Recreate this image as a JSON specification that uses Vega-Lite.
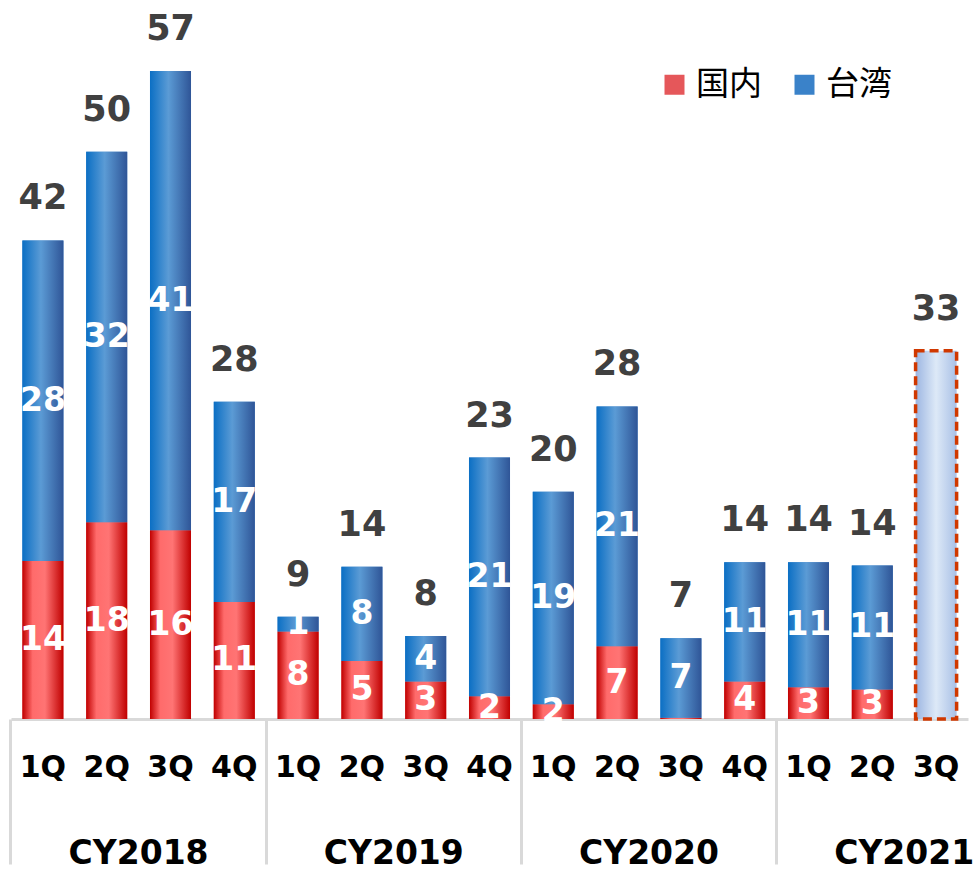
{
  "$schema": "https://vega.github.io/schema/vega-lite/v6.json",
  "width": 957,
  "height": 682,
  "autosize": {"type": "none"},
  "padding": {"left": 11, "right": 9, "top": 37, "bottom": 152},
  "config": {"view": {"stroke": null}, "font": "DejaVu Sans"},
  "data": {
    "values": [
      {"key": "2018-1Q", "dom": 13.9, "top": 42.1, "domLabel": "14", "twLabel": "28", "total": "42", "est": false},
      {"key": "2018-2Q", "dom": 17.3, "top": 49.9, "domLabel": "18", "twLabel": "32", "total": "50", "est": false},
      {"key": "2018-3Q", "dom": 16.6, "top": 57.0, "domLabel": "16", "twLabel": "41", "total": "57", "est": false},
      {"key": "2018-4Q", "dom": 10.3, "top": 27.9, "domLabel": "11", "twLabel": "17", "total": "28", "est": false},
      {"key": "2019-1Q", "dom": 7.7, "top": 9.0, "domLabel": "8", "twLabel": "1", "total": "9", "est": false},
      {"key": "2019-2Q", "dom": 5.1, "top": 13.4, "domLabel": "5", "twLabel": "8", "total": "14", "est": false},
      {"key": "2019-3Q", "dom": 3.3, "top": 7.3, "domLabel": "3", "twLabel": "4", "total": "8", "est": false},
      {"key": "2019-4Q", "dom": 2.0, "top": 23.0, "domLabel": "2", "twLabel": "21", "total": "23", "est": false},
      {"key": "2020-1Q", "dom": 1.3, "top": 20.0, "domLabel": "2", "twLabel": "19", "total": "20", "est": false},
      {"key": "2020-2Q", "dom": 6.4, "top": 27.5, "domLabel": "7", "twLabel": "21", "total": "28", "est": false},
      {"key": "2020-3Q", "dom": 0.1, "top": 7.1, "domLabel": "", "twLabel": "7", "total": "7", "est": false},
      {"key": "2020-4Q", "dom": 3.3, "top": 13.8, "domLabel": "4", "twLabel": "11", "total": "14", "est": false},
      {"key": "2021-1Q", "dom": 2.8, "top": 13.8, "domLabel": "3", "twLabel": "11", "total": "14", "est": false},
      {"key": "2021-2Q", "dom": 2.6, "top": 13.5, "domLabel": "3", "twLabel": "11", "total": "14", "est": false},
      {"key": "2021-3Q", "dom": 0, "top": 32.4, "domLabel": "", "twLabel": "", "total": "33", "est": true}
    ]
  },
  "resolve": {"axis": {"x": "independent"}},
  "layer": [
    {
      "transform": [{"filter": "!datum.est"}],
      "mark": {"type": "bar"},
      "encoding": {
        "x": {
          "field": "key", "type": "nominal", "sort": null,
          "scale": {"paddingInner": 0.357, "paddingOuter": 0.1785},
          "axis": {
            "title": null, "orient": "bottom", "labelExpr": "slice(datum.value, 5)", "labelAngle": 0,
            "labelFontSize": 30, "labelFontWeight": "bold", "labelColor": "#000000", "labelFont": "DejaVu Sans",
            "ticks": false, "tickSize": 0, "labelPadding": 33,
            "domain": true, "domainColor": "#d9d9d9", "domainWidth": 3
          }
        },
        "y": {"field": "dom", "type": "quantitative", "scale": {"domain": [0, 60], "nice": false, "zero": true}, "axis": null},
        "color": {
          "datum": "国内",
          "scale": {"domain": ["国内", "台湾"], "range": ["#e5575a", "#3a82c9"]},
          "legend": {
            "title": null, "orient": "none", "legendX": 647, "legendY": 31, "direction": "horizontal",
            "symbolType": "square", "symbolSize": 400, "symbolStrokeWidth": 0, "symbolOpacity": 1,
            "labelFontSize": 33, "labelFont": "Noto Sans CJK JP", "labelColor": "#000000",
            "labelOffset": 5, "columnPadding": 26
          }
        }
      }
    },
    {
      "transform": [{"filter": "!datum.est"}],
      "mark": {"type": "bar"},
      "encoding": {
        "x": {"field": "key", "type": "nominal", "sort": null, "axis": null},
        "y": {"field": "top", "type": "quantitative", "axis": null},
        "y2": {"field": "dom"},
        "color": {"datum": "台湾"}
      }
    },
    {
      "transform": [{"filter": "!datum.est"}],
      "mark": {
        "type": "bar",
        "fill": {"gradient": "linear", "x1": 0, "y1": 0, "x2": 1, "y2": 0, "stops": [
          {"offset": 0, "color": "#c00000"}, {"offset": 0.25, "color": "#ff6b6b"},
          {"offset": 0.55, "color": "#ff7474"}, {"offset": 1, "color": "#c00000"}]}
      },
      "encoding": {
        "x": {"field": "key", "type": "nominal", "sort": null, "axis": null},
        "y": {"field": "dom", "type": "quantitative", "axis": null}
      }
    },
    {
      "transform": [{"filter": "!datum.est"}],
      "mark": {
        "type": "bar",
        "fill": {"gradient": "linear", "x1": 0, "y1": 0, "x2": 1, "y2": 0, "stops": [
          {"offset": 0, "color": "#0b6fc4"}, {"offset": 0.45, "color": "#5b9bd5"},
          {"offset": 1, "color": "#2f5597"}]}
      },
      "encoding": {
        "x": {"field": "key", "type": "nominal", "sort": null, "axis": null},
        "y": {"field": "top", "type": "quantitative", "axis": null},
        "y2": {"field": "dom"}
      }
    },
    {
      "transform": [{"filter": "datum.est"}],
      "mark": {
        "type": "bar",
        "fill": {"gradient": "linear", "x1": 0, "y1": 0, "x2": 1, "y2": 0, "stops": [
          {"offset": 0, "color": "#9db6e2"}, {"offset": 0.5, "color": "#dde9f7"}, {"offset": 1, "color": "#a9c0e6"}]},
        "stroke": "#d03800", "strokeWidth": 3.5, "strokeDash": [9, 5]
      },
      "encoding": {
        "x": {"field": "key", "type": "nominal", "sort": null, "axis": null},
        "y": {"field": "top", "type": "quantitative", "axis": null}
      }
    },
    {
      "mark": {"type": "text", "baseline": "alphabetic", "dy": -31, "fontSize": 35, "fontWeight": "bold", "color": "#404040", "font": "DejaVu Sans"},
      "encoding": {
        "x": {
          "field": "key", "type": "nominal", "sort": null,
          "axis": {
            "title": null, "orient": "bottom", "values": ["2018-1Q", "2019-1Q", "2020-1Q", "2021-1Q"],
            "bandPosition": -0.2806, "labelOffset": 95.7, "labelAngle": 0,
            "labelExpr": "'CY' + slice(datum.value, 0, 4)",
            "labelFontSize": 33, "labelFontWeight": "bold", "labelColor": "#000000", "labelFont": "DejaVu Sans",
            "labelOverlap": false, "labelBound": false, "labelFlush": false,
            "ticks": true, "tickSize": 145, "tickColor": "#d9d9d9", "tickWidth": 3,
            "labelPadding": -27, "domain": false
          }
        },
        "y": {"field": "top", "type": "quantitative", "axis": null},
        "text": {"field": "total"}
      }
    },
    {
      "transform": [{"calculate": "datum.dom / 2", "as": "domMid"}],
      "mark": {"type": "text", "baseline": "middle", "fontSize": 33, "fontWeight": "bold", "color": "#ffffff", "font": "DejaVu Sans"},
      "encoding": {
        "x": {"field": "key", "type": "nominal", "sort": null, "axis": null},
        "y": {"field": "domMid", "type": "quantitative", "axis": null},
        "text": {"field": "domLabel"}
      }
    },
    {
      "transform": [{"calculate": "(datum.dom + datum.top) / 2", "as": "twMid"}],
      "mark": {"type": "text", "baseline": "middle", "fontSize": 33, "fontWeight": "bold", "color": "#ffffff", "font": "DejaVu Sans"},
      "encoding": {
        "x": {"field": "key", "type": "nominal", "sort": null, "axis": null},
        "y": {"field": "twMid", "type": "quantitative", "axis": null},
        "text": {"field": "twLabel"}
      }
    }
  ]
}
